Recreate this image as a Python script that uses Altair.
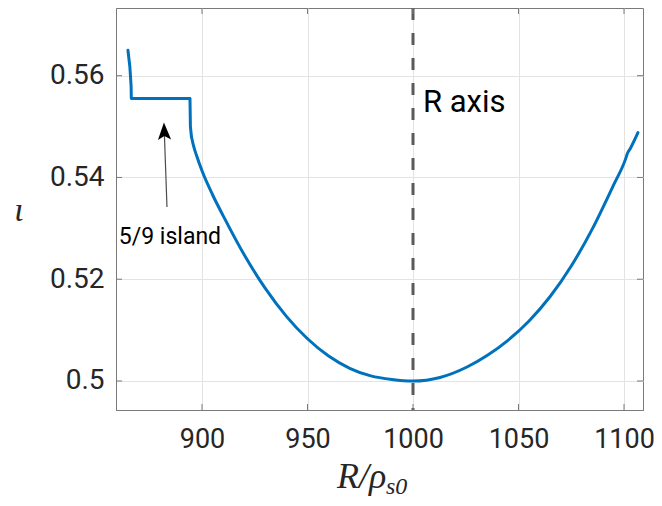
import altair as alt
import pandas as pd

# ---- data ----
# step / island part (drawn with straight segments)
R_step = [864.9, 865.8, 866.4, 866.5, 894.3, 894.5, 895.0]
iota_step = [0.5650, 0.5618, 0.5579, 0.5555, 0.5555, 0.5500, 0.5480]
# smooth part
R_vals = [895.0, 896.0, 897.5, 900.0, 905.0, 910.0, 920.0, 930.0, 940.0, 950.0,
          960.0, 970.0, 980.0, 990.0, 1000.0, 1012.8, 1025.6, 1035.1, 1045.0,
          1055.0, 1065.0, 1075.0, 1085.0, 1094.8, 1100.8, 1101.6, 1103.0,
          1106.6]
iota_vals = [0.5480, 0.5462, 0.5442, 0.5413, 0.5366, 0.5325, 0.5248, 0.5182, 0.5127, 0.5083,
             0.5049, 0.5025, 0.5010, 0.5003, 0.5000, 0.5007, 0.50275, 0.5050, 0.5080,
             0.5118, 0.5166, 0.5226, 0.5299, 0.5383, 0.5437, 0.5447, 0.5457,
             0.5488]

x_ticks = [900, 950, 1000, 1050, 1100]
y_ticks = [0.50, 0.52, 0.54, 0.56]
x_domain = [859.24, 1109.0]
y_domain = [0.4943, 0.5733]

R_axis = [1000]
R_axis_label = ["R axis"]
island_label = ["5/9 island"]
island_text_pos = [884.8, 0.5283]
arrow_start = [883.4, 0.5342]
arrow_end = [882.2, 0.5482]
arrow_head = [882.1, 0.5491]
R_axis_label_pos = [1004.7, 0.5547]

W, H = 527, 402
AXIS_COL = "#7a7a7a"
TXT_COL = "#262626"
BLUE = "#0072BD"

step_df = pd.DataFrame({"R": R_step, "iota": iota_step, "i": range(len(R_step))})
curve = pd.DataFrame({"R": R_vals, "iota": iota_vals})
xt = pd.DataFrame({"v": x_ticks})
yt = pd.DataFrame({"v": y_ticks})

xs = alt.Scale(domain=x_domain, nice=False, zero=False)
ys = alt.Scale(domain=y_domain, nice=False, zero=False)

base_x = alt.X("R:Q", scale=xs, axis=alt.Axis(
    values=x_ticks, title=None, grid=True, ticks=False, labelPadding=16,
    labelFontSize=27, format="d"))
base_y = alt.Y("iota:Q", scale=ys, axis=alt.Axis(
    values=y_ticks, title=None, grid=True, ticks=False, labelPadding=12,
    labelFontSize=28, format=".2~f"))

line_step = alt.Chart(step_df).mark_line(color=BLUE, strokeWidth=3, strokeJoin="round",
                                         strokeCap="round").encode(
    x=base_x, y=base_y, order="i:Q")
line = alt.Chart(curve).mark_line(color=BLUE, strokeWidth=3, strokeJoin="round",
                                  strokeCap="round", interpolate="monotone").encode(
    x=alt.X("R:Q", scale=xs), y=alt.Y("iota:Q", scale=ys))

vline = alt.Chart(pd.DataFrame({"R": R_axis})).mark_rule(
    color="#5a5a5a", strokeWidth=3, strokeDash=[12, 13]).encode(
    x=alt.X("R:Q", scale=xs))

# inward ticks (box style)
tick_len = 6
t_bottom = alt.Chart(xt).mark_rule(color=AXIS_COL, strokeWidth=1).encode(
    x=alt.X("v:Q", scale=xs), y=alt.value(H), y2=alt.value(H - tick_len))
t_top = alt.Chart(xt).mark_rule(color=AXIS_COL, strokeWidth=1).encode(
    x=alt.X("v:Q", scale=xs), y=alt.value(0), y2=alt.value(tick_len))
t_left = alt.Chart(yt).mark_rule(color=AXIS_COL, strokeWidth=1).encode(
    y=alt.Y("v:Q", scale=ys), x=alt.value(0), x2=alt.value(tick_len))
t_right = alt.Chart(yt).mark_rule(color=AXIS_COL, strokeWidth=1).encode(
    y=alt.Y("v:Q", scale=ys), x=alt.value(W), x2=alt.value(W - tick_len))

raxis_txt = alt.Chart(pd.DataFrame({"x": [R_axis_label_pos[0]], "y": [R_axis_label_pos[1]],
                                    "t": R_axis_label})).mark_text(
    align="left", baseline="middle", font="Roboto", fontSize=31, color="black").encode(
    x=alt.X("x:Q", scale=xs), y=alt.Y("y:Q", scale=ys), text="t:N")

island_txt = alt.Chart(pd.DataFrame({"x": [island_text_pos[0]], "y": [island_text_pos[1]],
                                     "t": island_label})).mark_text(
    align="center", baseline="middle", font="Roboto", fontSize=23, color="black").encode(
    x=alt.X("x:Q", scale=xs), y=alt.Y("y:Q", scale=ys), text="t:N")

arrow_line = alt.Chart(pd.DataFrame({"x": [arrow_start[0]], "y": [arrow_start[1]],
                                     "x2": [arrow_end[0]], "y2": [arrow_end[1]]})).mark_rule(
    color="#4d4d4d", strokeWidth=1.2).encode(
    x=alt.X("x:Q", scale=xs), y=alt.Y("y:Q", scale=ys), x2="x2:Q", y2="y2:Q")

arrow_hd = alt.Chart(pd.DataFrame({"x": [arrow_head[0]], "y": [arrow_head[1]]})).mark_point(
    shape="M0,-1 L0.76,1 L0,0.55 L-0.76,1 Z", filled=True, color="black", opacity=1,
    size=300, angle=358).encode(
    x=alt.X("x:Q", scale=xs), y=alt.Y("y:Q", scale=ys))

# axis titles as text
ytitle = alt.Chart(pd.DataFrame({"t": ["ι"]})).mark_text(
    font="Liberation Serif", fontStyle="italic", fontSize=34, color=TXT_COL,
    align="center", baseline="middle").encode(
    x=alt.value(-97), y=alt.value(203), text="t:N")

xtitle_main = alt.Chart(pd.DataFrame({"t": ["R/ρ"]})).mark_text(
    font="Liberation Serif", fontStyle="italic", fontSize=36, color=TXT_COL,
    align="left", baseline="alphabetic").encode(
    x=alt.value(221), y=alt.value(480), text="t:N")

xtitle_sub = alt.Chart(pd.DataFrame({"t": ["s0"]})).mark_text(
    font="Liberation Serif", fontStyle="italic", fontSize=24, color=TXT_COL,
    align="left", baseline="alphabetic").encode(
    x=alt.value(270), y=alt.value(486), text="t:N")

chart = alt.layer(
    line_step, line, vline, t_bottom, t_top, t_left, t_right,
    arrow_line, arrow_hd, island_txt, raxis_txt, ytitle, xtitle_main, xtitle_sub
).properties(
    width=W, height=H,
    autosize=alt.AutoSizeParams(type="none"),
    padding={"left": 108, "top": 0, "right": 11, "bottom": 88},
    background="white",
).configure_view(
    stroke=AXIS_COL, strokeWidth=1
).configure_axis(
    domainColor=AXIS_COL, domainWidth=1,
    gridColor="#e3e3e3", gridWidth=1,
    labelFont="Roboto", labelColor=TXT_COL,
    labelFlush=False, labelOverlap=False,
)

chart.save("out.html", embed_options={"renderer": "svg", "actions": False})
